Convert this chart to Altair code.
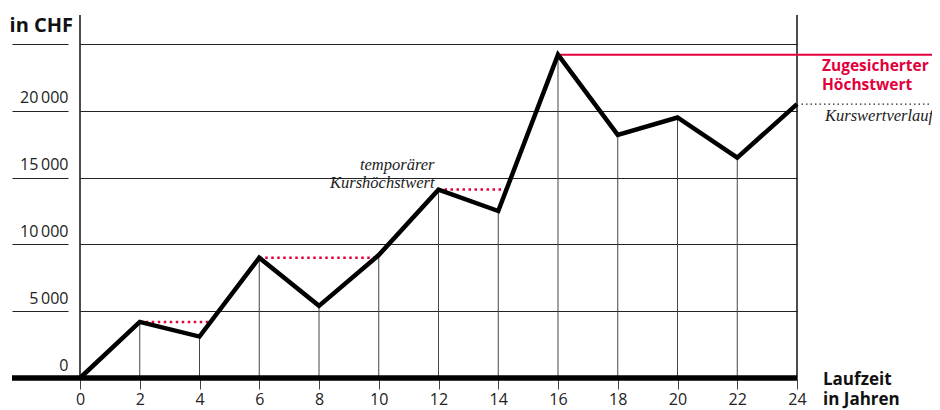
import altair as alt
import pandas as pd

# ---- data ----
years = [0, 2, 4, 6, 8, 10, 12, 14, 16, 18, 20, 22, 24]
values = [0, 4200, 3100, 9000, 5400, 9200, 14100, 12500, 24200, 18200, 19500, 16500, 20500]

x_ticks = [0, 2, 4, 6, 8, 10, 12, 14, 16, 18, 20, 22, 24]
y_ticks = [0, 5000, 10000, 15000, 20000, 25000]

# temporary highs (dotted red): start year, level, year where curve regains it
peak_start = [2, 6, 12]
peak_level = [4200, 9000, 14100]
peak_end = [4.35, 9.95, 14.3]

# guaranteed maximum (solid red)
guar_start = [16]
guar_level = [24200]
guar_end = [28.8]

# course leader (black dotted)
course_start = [24.15]
course_level = [20500]
course_end = [28.6]

Y_MAX = 27170
W, H = 717, 363
RED = "#e2003c"
SANS = "Open Sans"
SERIF = "Liberation Serif"

df = pd.DataFrame({"year": years, "value": values})
df_vert = df[(df.year > 0) & (df.year < 24)]
df_edges = pd.DataFrame({"year": [0, 24]})
df_peaks = pd.DataFrame({"x": peak_start, "x2": peak_end, "v": peak_level})
df_guar = pd.DataFrame({"x": guar_start, "x2": guar_end, "v": guar_level})
df_course = pd.DataFrame({"x": course_start, "x2": course_end, "v": course_level})
one = pd.DataFrame({"a": [0]})

xs = alt.Scale(domain=[0, 24], nice=False, zero=False)
ys = alt.Scale(domain=[0, Y_MAX], nice=False)

x_axis = alt.Axis(
    values=x_ticks, title=None, domain=False, grid=False, ticks=True,
    tickSize=11, tickColor="#444", tickWidth=1, labelFlush=False,
    labelPadding=2, labelFont=SANS, labelFontSize=16, labelColor="#222",
    labelOverlap=False,
)
y_axis = alt.Axis(
    values=y_ticks, title=None, domain=False, grid=True, gridColor="#222",
    gridWidth=1, ticks=True, tickSize=56, tickColor="#222", tickWidth=1,
    offset=12, labelPadding=-56, labelAlign="right", labelBaseline="alphabetic",
    labelOffset=-8, labelFont=SANS, labelFontSize=16, labelColor="#222",
    labelExpr="datum.value == 25000 ? '' : replace(format(datum.value, ','), ',', '\u2009')",
)

base_axes = alt.Chart(df).mark_point(opacity=0).encode(
    x=alt.X("year:Q", scale=xs, axis=x_axis),
    y=alt.Y("value:Q", scale=ys, axis=y_axis),
)

verticals = alt.Chart(df_vert).mark_rule(color="#444", strokeWidth=1).encode(
    x=alt.X("year:Q", scale=xs), y=alt.Y("value:Q", scale=ys), y2=alt.datum(0)
)

edges = alt.Chart(df_edges).mark_rule(color="#111", strokeWidth=1.5).encode(
    x=alt.X("year:Q", scale=xs), y=alt.value(0), y2=alt.value(H)
)

baseline = alt.Chart(one).mark_rule(color="black", strokeWidth=5.5).encode(
    x=alt.value(-68), x2=alt.value(W), y=alt.value(H)
)

peaks = alt.Chart(df_peaks).mark_rule(color=RED, strokeWidth=2.5, strokeDash=[2.5, 3.5]).encode(
    x=alt.X("x:Q", scale=xs), x2="x2:Q", y=alt.Y("v:Q", scale=ys)
)

guar = alt.Chart(df_guar).mark_rule(color=RED, strokeWidth=2).encode(
    x=alt.X("x:Q", scale=xs), x2="x2:Q", y=alt.Y("v:Q", scale=ys)
)

course = alt.Chart(df_course).mark_rule(color="#222", strokeWidth=1.3, strokeDash=[1.5, 3]).encode(
    x=alt.X("x:Q", scale=xs), x2="x2:Q", y=alt.Y("v:Q", scale=ys)
)

line = alt.Chart(df).mark_line(color="black", strokeWidth=4.5, strokeJoin="miter", strokeCap="butt").encode(
    x=alt.X("year:Q", scale=xs), y=alt.Y("value:Q", scale=ys)
)

def txt(lines, x, y, dx, dy, font, size, weight="normal", style="normal", color="#222", align="left", lh=17):
    return alt.Chart(one).mark_text(
        text=lines, dx=dx, dy=dy, font=font, fontSize=size, fontWeight=weight,
        fontStyle=style, color=color, align=align, baseline="alphabetic", lineHeight=lh,
    ).encode(x=alt.X("x:Q", scale=xs), y=alt.Y("y:Q", scale=ys)).transform_calculate(
        x=str(x), y=str(y)
    )

t_chf = txt(["in CHF"], 0, Y_MAX, -7, 17, SANS, 20, weight="bold", color="#111", align="right")
t_guar = txt(["Zugesicherter", "Höchstwert"], 24, guar_level[0], 25, 16, SANS, 15.5, weight="bold", color=RED, lh=19)
t_course = txt(["Kurswertverlauf"], 24, course_level[0], 28, 17, SERIF, 16.5, style="italic")
t_temp = txt(["temporärer", "Kurshöchstwert"], 12, peak_level[2], -4, -20, SERIF, 16.5, style="italic", align="right", lh=18)
t_x = txt(["Laufzeit", "in Jahren"], 24, 0, 26, 7, SANS, 17, weight="bold", color="#111", lh=20)

chart = alt.layer(
    base_axes, verticals, edges, baseline, peaks, guar, course, line,
    t_chf, t_guar, t_course, t_temp, t_x,
).properties(
    width=W, height=H,
    autosize=alt.AutoSizeParams(type="none"),
    padding={"left": 72, "top": 7, "right": 135, "bottom": 32},
    background="white",
).configure_view(stroke=None)

chart.save("out.html", embed_options={"renderer": "svg", "actions": False})
